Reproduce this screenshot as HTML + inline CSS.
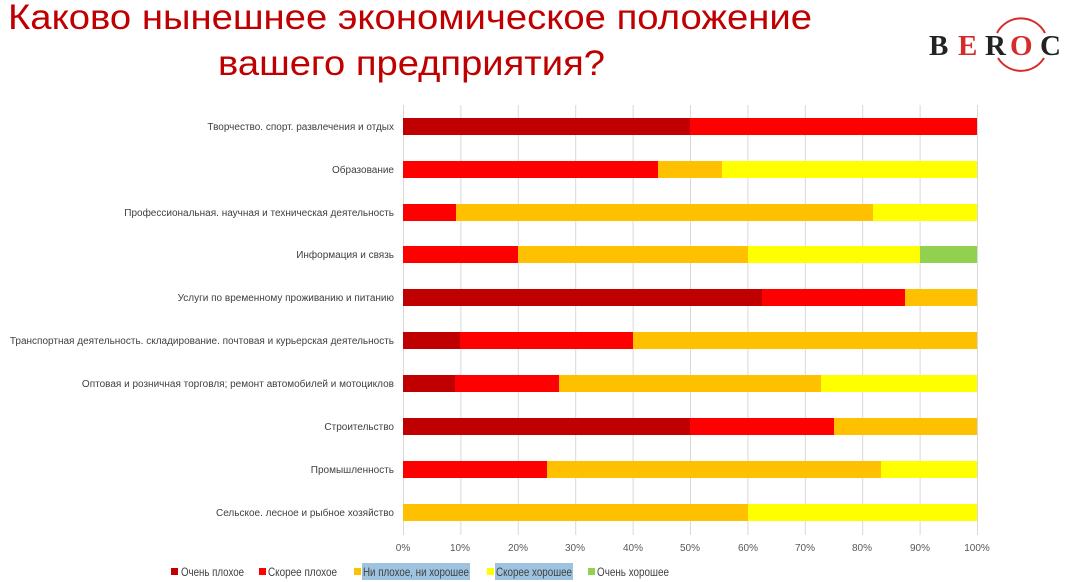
<!DOCTYPE html>
<html><head><meta charset="utf-8"><style>
html,body{margin:0;padding:0;background:#fff;width:1075px;height:582px;overflow:hidden}
svg{display:block;font-family:"Liberation Sans",Arial,sans-serif}
</style></head><body>
<svg width="1075" height="582" viewBox="0 0 1075 582" xmlns="http://www.w3.org/2000/svg">
<text x="8" y="29" font-size="35" fill="#c00000" textLength="804" lengthAdjust="spacingAndGlyphs">Каково нынешнее экономическое положение</text>
<text x="218" y="75" font-size="35" fill="#c00000" textLength="387" lengthAdjust="spacingAndGlyphs">вашего предприятия?</text>
<!-- logo -->
<path d="M997,33 A27,27 0 0 1 1045,33" fill="none" stroke="#d62b2b" stroke-width="2"/>
<path d="M998,58 A27,27 0 0 0 1044,58" fill="none" stroke="#d62b2b" stroke-width="2"/>
<g font-family="Liberation Serif,serif" font-weight="bold" font-size="29">
<text x="929" y="55" fill="#222">B</text>
<text x="958" y="55" fill="#d62b2b">E</text>
<text x="985" y="55" fill="#222">R</text>
<text x="1010" y="55" fill="#d62b2b">O</text>
<text x="1040" y="55" fill="#222">C</text>
</g>
<g stroke="#d9d9d9" stroke-width="1">
<line x1="403.5" y1="105" x2="403.5" y2="535"/><line x1="460.9" y1="105" x2="460.9" y2="535"/><line x1="518.3" y1="105" x2="518.3" y2="535"/><line x1="575.7" y1="105" x2="575.7" y2="535"/><line x1="633.1" y1="105" x2="633.1" y2="535"/><line x1="690.5" y1="105" x2="690.5" y2="535"/><line x1="747.9" y1="105" x2="747.9" y2="535"/><line x1="805.3" y1="105" x2="805.3" y2="535"/><line x1="862.7" y1="105" x2="862.7" y2="535"/><line x1="920.1" y1="105" x2="920.1" y2="535"/><line x1="977.5" y1="105" x2="977.5" y2="535"/>
</g>
<g font-size="10" fill="#595959" text-anchor="middle">
<text x="403" y="551">0%</text><text x="460" y="551">10%</text><text x="518" y="551">20%</text><text x="575" y="551">30%</text><text x="633" y="551">40%</text><text x="690" y="551">50%</text><text x="748" y="551">60%</text><text x="805" y="551">70%</text><text x="862" y="551">80%</text><text x="920" y="551">90%</text><text x="977" y="551">100%</text>
</g>
<g font-size="10" fill="#404040" text-anchor="end">
<text x="394" y="130">Творчество. спорт. развлечения и отдых</text>
<text x="394" y="173">Образование</text>
<text x="394" y="216">Профессиональная. научная и техническая деятельность</text>
<text x="394" y="258">Информация и связь</text>
<text x="394" y="301">Услуги по временному проживанию и питанию</text>
<text x="394" y="344">Транспортная деятельность. складирование. почтовая и курьерская деятельность</text>
<text x="394" y="387">Оптовая и розничная торговля; ремонт автомобилей и мотоциклов</text>
<text x="394" y="430">Строительство</text>
<text x="394" y="473">Промышленность</text>
<text x="394" y="516">Сельское. лесное и рыбное хозяйство</text>
</g>
<g>
<rect x="403" y="118" width="287" height="17" fill="#c00000"/><rect x="690" y="118" width="287" height="17" fill="#ff0000"/>
<rect x="403" y="161" width="255" height="17" fill="#ff0000"/><rect x="658" y="161" width="64" height="17" fill="#ffc000"/><rect x="722" y="161" width="255" height="17" fill="#ffff00"/>
<rect x="403" y="204" width="53" height="17" fill="#ff0000"/><rect x="456" y="204" width="417" height="17" fill="#ffc000"/><rect x="873" y="204" width="104" height="17" fill="#ffff00"/>
<rect x="403" y="246" width="115" height="17" fill="#ff0000"/><rect x="518" y="246" width="230" height="17" fill="#ffc000"/><rect x="748" y="246" width="172" height="17" fill="#ffff00"/><rect x="920" y="246" width="57" height="17" fill="#92d050"/>
<rect x="403" y="289" width="359" height="17" fill="#c00000"/><rect x="762" y="289" width="143" height="17" fill="#ff0000"/><rect x="905" y="289" width="72" height="17" fill="#ffc000"/>
<rect x="403" y="332" width="57" height="17" fill="#c00000"/><rect x="460" y="332" width="173" height="17" fill="#ff0000"/><rect x="633" y="332" width="344" height="17" fill="#ffc000"/>
<rect x="403" y="375" width="52" height="17" fill="#c00000"/><rect x="455" y="375" width="104" height="17" fill="#ff0000"/><rect x="559" y="375" width="262" height="17" fill="#ffc000"/><rect x="821" y="375" width="156" height="17" fill="#ffff00"/>
<rect x="403" y="418" width="287" height="17" fill="#c00000"/><rect x="690" y="418" width="144" height="17" fill="#ff0000"/><rect x="834" y="418" width="143" height="17" fill="#ffc000"/>
<rect x="403" y="461" width="144" height="17" fill="#ff0000"/><rect x="547" y="461" width="334" height="17" fill="#ffc000"/><rect x="881" y="461" width="96" height="17" fill="#ffff00"/>
<rect x="403" y="504" width="345" height="17" fill="#ffc000"/><rect x="748" y="504" width="229" height="17" fill="#ffff00"/>
</g>
<!-- legend -->
<rect x="362" y="563" width="108" height="17" fill="#9dc3e0"/>
<rect x="495" y="563" width="78" height="17" fill="#9dc3e0"/>
<g font-size="12" fill="#404040">
<rect x="171" y="568" width="7" height="7" fill="#c00000"/><text x="181" y="576" textLength="63" lengthAdjust="spacingAndGlyphs">Очень плохое</text>
<rect x="259" y="568" width="7" height="7" fill="#ff0000"/><text x="268" y="576" textLength="69" lengthAdjust="spacingAndGlyphs">Скорее плохое</text>
<rect x="354" y="568" width="7" height="7" fill="#ffc000"/><text x="363" y="576" textLength="106" lengthAdjust="spacingAndGlyphs">Ни плохое, ни хорошее</text>
<rect x="487" y="568" width="7" height="7" fill="#ffff00"/><text x="496" y="576" textLength="76" lengthAdjust="spacingAndGlyphs">Скорее хорошее</text>
<rect x="588" y="568" width="7" height="7" fill="#92d050"/><text x="597" y="576" textLength="72" lengthAdjust="spacingAndGlyphs">Очень хорошее</text>
</g>
</svg>
</body></html>
